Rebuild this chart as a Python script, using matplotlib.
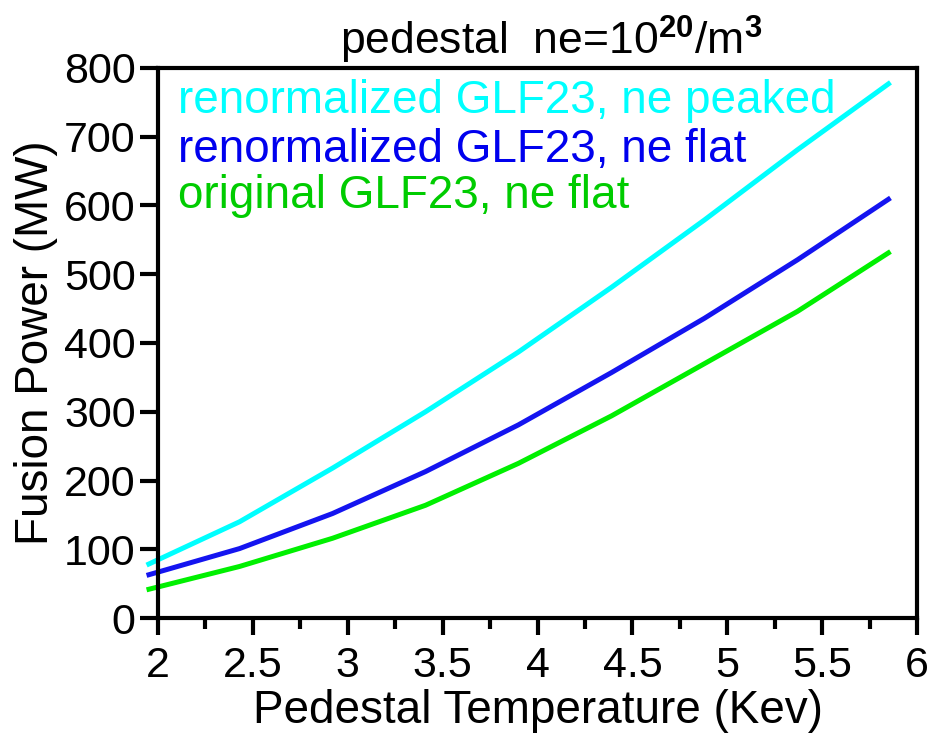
import numpy as np
import matplotlib.pyplot as plt
from matplotlib.ticker import MultipleLocator

plt.rcParams['font.family'] = ['Liberation Sans', 'DejaVu Sans']
plt.rcParams['mathtext.fontset'] = 'custom'
plt.rcParams['mathtext.rm'] = 'Liberation Sans'
plt.rcParams['mathtext.bf'] = 'Liberation Sans:bold'

# Temperatura del pedestal (keV)
temp = [1.94, 2.43, 2.92, 3.41, 3.90, 4.39, 4.88, 5.37, 5.86]

# Potencia de fusion (MW) para cada caso
renorm_peaked = [77, 140, 218, 300, 387, 481, 579, 681, 779]
renorm_flat = [62, 101, 152, 213, 281, 357, 436, 521, 611]
orig_flat = [41, 75, 116, 164, 225, 294, 370, 446, 533]

labels = ['renormalized GLF23, ne peaked',
          'renormalized GLF23, ne flat',
          'original GLF23, ne flat']
line_colors = ['#00FFFF', '#1414F0', '#00F000']
text_colors = ['#00FFFF', '#0000EE', '#00CC00']

fig = plt.figure(figsize=(9.33, 7.34), dpi=100)
ax = fig.add_axes([0.1693, 0.158, 0.8136, 0.7494])

for y, c in zip([renorm_peaked, renorm_flat, orig_flat], line_colors):
    ax.plot(temp, y, color=c, linewidth=3.6, clip_on=False, solid_capstyle='butt')

ax.set_xlim(2, 6)
ax.set_ylim(0, 800)
ax.xaxis.set_minor_locator(MultipleLocator(0.25))
ax.yaxis.set_major_locator(MultipleLocator(100))
ax.set_xticks([2, 2.5, 3, 3.5, 4, 4.5, 5, 5.5, 6])
ax.set_xticklabels(['2', '2.5', '3', '3.5', '4', '4.5', '5', '5.5', '6'])

for s in ax.spines.values():
    s.set_linewidth(3)
ax.tick_params(axis='x', which='major', direction='out', length=12, width=3,
               labelsize=31, pad=8)
ax.tick_params(axis='x', which='minor', direction='out', length=8, width=3)
ax.tick_params(axis='y', which='major', direction='out', length=13, width=3,
               labelsize=31, pad=3)

ax.set_xlabel('Pedestal Temperature (Kev)', fontsize=33, labelpad=2)
ax.set_ylabel('Fusion Power (MW)', fontsize=33, labelpad=4)

# Texto de la leyenda en colores
for yy, lab, c in zip([0.918, 0.829, 0.745], labels, text_colors):
    ax.text(0.026, yy, lab, color=c, fontsize=33, transform=ax.transAxes,
            va='baseline', ha='left')

fig.text(551 / 933, 1 - 55 / 734, r'pedestal  ne=10$^{\mathbf{20}}$/m$^{\mathbf{3}}$',
         fontsize=32, ha='center', va='baseline')

plt.savefig('out.png', dpi=100)
